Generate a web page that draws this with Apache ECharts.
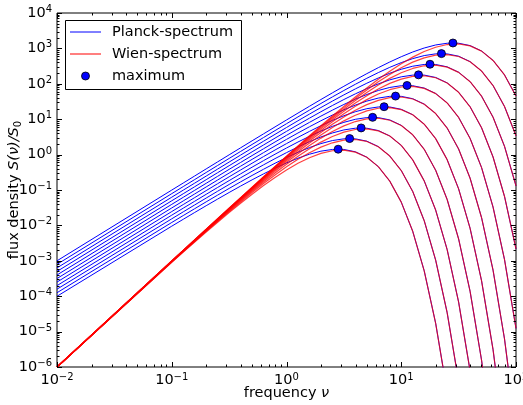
<!DOCTYPE html>
<html><head><meta charset="utf-8">
<script src="https://cdn.jsdelivr.net/npm/echarts@6/dist/echarts.min.js"></script>
<style>html,body{margin:0;padding:0;background:#fff}#c{width:523px;height:405px}</style>
</head><body><div id="c"></div>
<script>
// shared frequency grid (nu)
const freq = [0.01, 0.1, 0.1259, 0.1585, 0.1995, 0.2512, 0.3162, 0.3981, 0.5012, 0.631, 0.7943, 1, 1.259, 1.585, 1.995, 2.512, 3.162, 3.981, 5.012, 6.31, 7.943, 10, 12.59, 15.85, 19.95, 25.12, 31.62, 39.81, 50.12, 63.1, 79.43, 100];

// Planck-spectrum curves (one per temperature)
const planck0 = [9.95e-5, 9.508e-3, 1.487e-2, 2.318e-2, 3.597e-2, 5.550e-2, 8.502e-2, 0.1290, 0.1935, 0.2856, 0.4132, 0.5820, 0.7913, 1.026, 1.250, 1.399, 1.398, 1.200, 0.8439, 0.4577, 0.1780, 4.540e-2, 6.801e-3, 5.211e-4, 1.717e-5, 1.954e-7];
const planck1 = [1.254e-4, 1.210e-2, 1.897e-2, 2.968e-2, 4.625e-2, 7.177e-2, 0.1107, 0.1696, 0.2575, 0.3860, 0.5699, 0.8244, 1.161, 1.579, 2.048, 2.494, 2.792, 2.789, 2.395, 1.684, 0.9132, 0.3552, 9.059e-2, 1.357e-2, 1.040e-3, 3.425e-5, 3.900e-7];
const planck2 = [1.580e-4, 1.536e-2, 2.413e-2, 3.785e-2, 5.921e-2, 9.229e-2, 0.1432, 0.2210, 0.3385, 0.5137, 0.7703, 1.137, 1.645, 2.317, 3.150, 4.086, 4.977, 5.570, 5.564, 4.778, 3.359, 1.822, 0.7087, 0.1808, 2.707e-2, 2.074e-3, 6.834e-5, 7.781e-7];
const planck3 = [1.990e-4, 1.946e-2, 3.064e-2, 4.815e-2, 7.553e-2, 0.1181, 0.1841, 0.2857, 0.4409, 0.6754, 1.025, 1.537, 2.269, 3.282, 4.623, 6.285, 8.153, 9.930, 11.11, 11.10, 9.533, 6.703, 3.636, 1.414, 0.3606, 5.402e-2, 4.139e-3, 1.364e-4, 1.552e-6, 4.642e-9];
const planck4 = [2.507e-4, 2.462e-2, 3.882e-2, 6.113e-2, 9.608e-2, 0.1507, 0.2357, 0.3674, 0.5701, 0.8797, 1.347, 2.045, 3.066, 4.527, 6.549, 9.224, 12.54, 16.27, 19.81, 22.17, 22.15, 19.02, 13.37, 7.254, 2.821, 0.7196, 0.1078, 8.258e-3, 2.721e-4, 3.098e-6, 9.261e-9];
const planck5 = [3.157e-4, 3.113e-2, 4.913e-2, 7.746e-2, 0.1220, 0.1917, 0.3007, 0.4703, 0.7331, 1.138, 1.755, 2.689, 4.080, 6.118, 9.032, 13.07, 18.40, 25.02, 32.46, 39.53, 44.24, 44.20, 37.95, 26.69, 14.47, 5.629, 1.436, 0.2151, 1.648e-2, 5.429e-4, 6.180e-6, 1.848e-8];
const planck6 = [3.976e-4, 3.931e-2, 6.210e-2, 9.802e-2, 0.1546, 0.2434, 0.3825, 0.5999, 0.9384, 1.463, 2.270, 3.502, 5.364, 8.141, 12.21, 18.02, 26.07, 36.72, 49.93, 64.76, 78.88, 88.28, 88.19, 75.72, 53.24, 28.88, 11.23, 2.865, 0.4291, 3.288e-2, 1.083e-3, 1.233e-5];
const planck7 = [5.007e-4, 4.962e-2, 7.844e-2, 0.1239, 0.1956, 0.3084, 0.4856, 0.7632, 1.197, 1.872, 2.918, 4.529, 6.987, 10.70, 16.24, 24.36, 35.96, 52.02, 73.27, 99.61, 129.2, 157.4, 176.1, 176.0, 151.1, 106.2, 57.62, 22.41, 5.716, 0.8562, 6.560e-2, 2.161e-3];
const planck8 = [6.305e-4, 6.260e-2, 9.901e-2, 0.1565, 0.2472, 0.3902, 0.6153, 0.9688, 1.523, 2.388, 3.736, 5.823, 9.036, 13.94, 21.36, 32.41, 48.60, 71.75, 103.8, 146.2, 198.8, 257.8, 314.0, 351.4, 351.1, 301.5, 212.0, 115.0, 44.71, 11.40, 1.708, 0.1309];
const planck9 = [7.938e-4, 7.894e-2, 0.1249, 0.1975, 0.3123, 0.4933, 0.7786, 1.228, 1.933, 3.038, 4.765, 7.454, 11.62, 18.03, 27.82, 42.61, 64.67, 96.97, 143.2, 207.1, 291.7, 396.6, 514.4, 626.5, 701.2, 700.5, 601.5, 422.9, 229.4, 89.22, 22.75, 3.408];
const planck10 = [9.995e-4, 9.950e-2, 0.1575, 0.2492, 0.3942, 0.6231, 0.9843, 1.554, 2.450, 3.857, 6.062, 9.508, 14.87, 23.18, 35.97, 55.50, 85.02, 129.0, 193.5, 285.6, 413.2, 582.0, 791.3, 1026, 1250, 1399, 1398, 1200, 843.9, 457.7, 178.0, 45.40];

// Wien-spectrum curves (one per temperature)
const wien0 = [9.90e-7, 9.048e-4, 1.759e-3, 3.398e-3, 6.507e-3, 1.233e-2, 2.305e-2, 4.238e-2, 7.627e-2, 0.1337, 0.2265, 0.3679, 0.5666, 0.8160, 1.080, 1.286, 1.339, 1.178, 0.8382, 0.4569, 0.1779, 4.540e-2, 6.801e-3, 5.211e-4, 1.717e-5, 1.954e-7];
const wien1 = [9.921e-7, 9.237e-4, 1.805e-3, 3.510e-3, 6.779e-3, 1.298e-2, 2.460e-2, 4.599e-2, 8.455e-2, 0.1522, 0.2667, 0.4519, 0.7340, 1.130, 1.628, 2.155, 2.565, 2.671, 2.350, 1.673, 0.9116, 0.3550, 9.059e-2, 1.357e-2, 1.040e-3, 3.425e-5, 3.900e-7];
const wien2 = [9.937e-7, 9.389e-4, 1.843e-3, 3.602e-3, 7.004e-3, 1.353e-2, 2.590e-2, 4.908e-2, 9.176e-2, 0.1687, 0.3036, 0.5321, 0.9016, 1.465, 2.256, 3.249, 4.300, 5.118, 5.329, 4.689, 3.337, 1.819, 0.7084, 0.1808, 2.707e-2, 2.074e-3, 6.834e-5, 7.781e-7];
const wien3 = [9.950e-7, 9.511e-4, 1.873e-3, 3.677e-3, 7.187e-3, 1.398e-2, 2.699e-2, 5.168e-2, 9.793e-2, 0.1831, 0.3366, 0.6058, 1.062, 1.799, 2.922, 4.500, 6.482, 8.580, 10.21, 10.63, 9.355, 6.658, 3.629, 1.413, 0.3606, 5.402e-2, 4.139e-3, 1.364e-4, 1.552e-6, 4.642e-9];
const wien4 = [9.960e-7, 9.610e-4, 1.898e-3, 3.738e-3, 7.337e-3, 1.434e-2, 2.788e-2, 5.385e-2, 0.1031, 0.1954, 0.3653, 0.6716, 1.209, 2.118, 3.589, 5.830, 8.980, 12.93, 17.12, 20.38, 21.21, 18.67, 13.29, 7.241, 2.820, 0.7196, 0.1078, 8.258e-3, 2.721e-4, 3.098e-6, 9.261e-9];
const wien5 = [9.968e-7, 9.689e-4, 1.917e-3, 3.787e-3, 7.458e-3, 1.464e-2, 2.861e-2, 5.563e-2, 0.1074, 0.2058, 0.3899, 0.7289, 1.340, 2.412, 4.226, 7.162, 11.63, 17.92, 25.80, 34.16, 40.65, 42.33, 37.24, 26.51, 14.45, 5.627, 1.436, 0.2151, 1.648e-2, 5.429e-4, 6.180e-6, 1.848e-8];
const wien6 = [9.975e-7, 9.752e-4, 1.933e-3, 3.826e-3, 7.555e-3, 1.488e-2, 2.921e-2, 5.709e-2, 0.1110, 0.2144, 0.4105, 0.7779, 1.454, 2.674, 4.812, 8.433, 14.29, 23.21, 35.75, 51.49, 68.15, 81.12, 84.46, 74.31, 52.89, 28.83, 11.23, 2.865, 0.4291, 3.288e-2, 1.083e-3, 1.233e-5];
const wien7 = [9.980e-7, 9.803e-4, 1.946e-3, 3.857e-3, 7.633e-3, 1.507e-2, 2.969e-2, 5.828e-2, 0.1139, 0.2215, 0.4277, 0.8191, 1.552, 2.902, 5.335, 9.601, 16.83, 28.51, 46.31, 71.33, 102.7, 136.0, 161.8, 168.5, 148.3, 105.5, 57.52, 22.40, 5.716, 0.8562, 6.560e-2, 2.161e-3];
const wien8 = [9.984e-7, 9.843e-4, 1.956e-3, 3.882e-3, 7.696e-3, 1.523e-2, 3.008e-2, 5.924e-2, 0.1163, 0.2273, 0.4419, 0.8534, 1.634, 3.097, 5.790, 10.64, 19.16, 33.57, 56.89, 92.41, 142.3, 205.0, 271.3, 322.9, 336.2, 295.8, 210.6, 114.8, 44.70, 11.40, 1.708, 0.1309];
const wien9 = [9.987e-7, 9.875e-4, 1.964e-3, 3.902e-3, 7.746e-3, 1.536e-2, 3.039e-2, 6.001e-2, 0.1182, 0.2320, 0.4535, 0.8817, 1.703, 3.261, 6.179, 11.55, 21.24, 38.22, 66.98, 113.5, 184.4, 284.0, 409.0, 541.3, 644.3, 670.9, 590.3, 420.1, 229.0, 89.18, 22.75, 3.408];
const wien10 = [9.990e-7, 9.901e-4, 1.970e-3, 3.919e-3, 7.786e-3, 1.546e-2, 3.064e-2, 6.063e-2, 0.1197, 0.2358, 0.4629, 0.9048, 1.759, 3.398, 6.507, 12.33, 23.05, 42.38, 76.27, 133.7, 226.5, 367.9, 566.6, 816.0, 1080, 1286, 1339, 1178, 838.2, 456.9, 177.9, 45.40];

// maxima of the Planck curves
const peakFreq = [2.821, 3.551, 4.471, 5.629, 7.086, 8.921, 11.23, 14.14, 17.80, 22.41, 28.21];
const peakFlux = [1.421, 2.836, 5.659, 11.29, 22.53, 44.95, 89.69, 178.9, 357.0, 712.4, 1421];

// tick labels (exponents)
const xTickExp = [-2, -1, 0, 1, 2];
const yTickExp = [-6, -5, -4, -3, -2, -1, 0, 1, 2, 3, 4];

const planckCurves = [planck0, planck1, planck2, planck3, planck4, planck5, planck6, planck7, planck8, planck9, planck10];
const wienCurves = [wien0, wien1, wien2, wien3, wien4, wien5, wien6, wien7, wien8, wien9, wien10];

const FONT = 'DejaVu Sans';
const toPairs = arr => arr.map((v, i) => [freq[i], v]);

function expLabel(v) {
  const e = Math.round(Math.log10(v));
  return '{b|10}{s|' + (e < 0 ? '\u2212' + (-e) : e) + '}';
}
const labelRich = {
  b: { fontSize: 14.5, fontFamily: FONT, color: '#000', lineHeight: 17 },
  s: { fontSize: 10, fontFamily: FONT, color: '#000', lineHeight: 11, verticalAlign: 'top' }
};

const series = [];
planckCurves.forEach(c => series.push({
  type: 'line', name: 'Planck-spectrum', data: toPairs(c), showSymbol: false, symbol: 'none',
  lineStyle: { color: '#0000ff', width: 1 }, silent: true, z: 2, clip: true
}));
wienCurves.forEach(c => series.push({
  type: 'line', name: 'Wien-spectrum', data: toPairs(c), showSymbol: false, symbol: 'none',
  lineStyle: { color: '#ff0000', width: 1.2, opacity: 0.75 }, silent: true, z: 3, clip: true
}));
series.push({
  type: 'scatter', name: 'maximum', data: peakFreq.map((f, i) => [f, peakFlux[i]]),
  symbol: 'circle', symbolSize: 8,
  itemStyle: { color: '#0000ff', borderColor: '#000', borderWidth: 0.8, opacity: 1 }, silent: true, z: 5
});
// tick marks on all four sides (matplotlib style, inward)
series.push({
  type: 'custom', data: [[1, 1]], silent: true, z: 6, clip: false,
  renderItem: function (params, api) {
    const cs = params.coordSys;
    const xl = cs.x, xr = cs.x + cs.width, yt = cs.y, yb = cs.y + cs.height;
    const ch = [];
    const seg = (x1, y1, x2, y2) => ch.push({ type: 'line', shape: { x1, y1, x2, y2 }, style: { stroke: '#000', lineWidth: 1 } });
    for (let e = xTickExp[0]; e <= xTickExp[xTickExp.length - 1]; e++) {
      for (let m = 1; m < 10; m++) {
        if (e === xTickExp[xTickExp.length - 1] && m > 1) break;
        const px = Math.round(api.coord([m * Math.pow(10, e), 1])[0]) + 0.5;
        const L = m === 1 ? 5 : 2.5;
        seg(px, yb, px, yb - L); seg(px, yt, px, yt + L);
      }
    }
    for (let e = yTickExp[0]; e <= yTickExp[yTickExp.length - 1]; e++) {
      for (let m = 1; m < 10; m++) {
        if (e === yTickExp[yTickExp.length - 1] && m > 1) break;
        const py = Math.round(api.coord([1, m * Math.pow(10, e)])[1]) + 0.5;
        const L = m === 1 ? 5 : 2.5;
        seg(xl, py, xl + L, py); seg(xr, py, xr - L, py);
      }
    }
    return { type: 'group', children: ch };
  }
});

const chart = echarts.init(document.getElementById('c'), null, { renderer: 'canvas' });
chart.setOption({
  animation: false,
  backgroundColor: '#fff',
  grid: { left: 57, right: 7, top: 13, bottom: 38, show: true, borderColor: '#000', borderWidth: 1, backgroundColor: 'transparent', containLabel: false, outerBoundsMode: 'none' },
  xAxis: {
    type: 'log', logBase: 10, min: Math.pow(10, xTickExp[0]), max: Math.pow(10, xTickExp[xTickExp.length - 1]), interval: 1,
    name: 'frequency {i|\u03bd}', nameLocation: 'middle', nameGap: 19, nameMoveOverlap: false,
    nameTextStyle: { fontSize: 14.5, fontFamily: FONT, color: '#000', rich: { i: { fontSize: 14.5, fontFamily: FONT, fontStyle: 'italic', color: '#000' } } },
    axisLine: { show: false }, axisTick: { show: false }, splitLine: { show: false }, minorTick: { show: false },
    axisLabel: { formatter: expLabel, rich: labelRich, margin: 5, color: '#000', showMinLabel: true, showMaxLabel: true, hideOverlap: false }
  },
  yAxis: {
    type: 'log', logBase: 10, min: Math.pow(10, yTickExp[0]), max: Math.pow(10, yTickExp[yTickExp.length - 1]), interval: 1,
    name: 'flux density {i|S(\u03bd)/S}{sub|0}', nameLocation: 'middle', nameGap: 34, nameRotate: 90, nameMoveOverlap: false,
    nameTextStyle: { fontSize: 14.5, fontFamily: FONT, color: '#000',
      rich: { i: { fontSize: 14.5, fontFamily: FONT, fontStyle: 'italic', color: '#000', lineHeight: 18 },
              sub: { fontSize: 10, fontFamily: FONT, color: '#000', verticalAlign: 'bottom', lineHeight: 11 } } },
    axisLine: { show: false }, axisTick: { show: false }, splitLine: { show: false }, minorTick: { show: false },
    axisLabel: { formatter: expLabel, rich: labelRich, margin: 5, color: '#000', showMinLabel: true, showMaxLabel: true, hideOverlap: false }
  },
  legend: { show: false },
  graphic: [
    { type: 'rect', z: 100, shape: { x: 65.5, y: 20.5, width: 176, height: 69 }, style: { fill: '#fff', stroke: '#000', lineWidth: 1 } },
    { type: 'line', z: 101, shape: { x1: 70, y1: 32, x2: 101, y2: 32 }, style: { stroke: '#0000ff', lineWidth: 1 } },
    { type: 'line', z: 101, shape: { x1: 70, y1: 54, x2: 101, y2: 54 }, style: { stroke: 'rgba(255,0,0,0.5)', lineWidth: 2 } },
    { type: 'circle', z: 101, shape: { cx: 85.5, cy: 76, r: 4 }, style: { fill: '#0000ff', stroke: '#000', lineWidth: 0.8 } },
    { type: 'text', z: 101, style: { text: 'Planck-spectrum', x: 112, y: 32, fontSize: 14.5, fontFamily: FONT, fill: '#000', verticalAlign: 'middle' } },
    { type: 'text', z: 101, style: { text: 'Wien-spectrum', x: 112, y: 54, fontSize: 14.5, fontFamily: FONT, fill: '#000', verticalAlign: 'middle' } },
    { type: 'text', z: 101, style: { text: 'maximum', x: 112, y: 76, fontSize: 14.5, fontFamily: FONT, fill: '#000', verticalAlign: 'middle' } }
  ],
  series: series
});
</script></body></html>
